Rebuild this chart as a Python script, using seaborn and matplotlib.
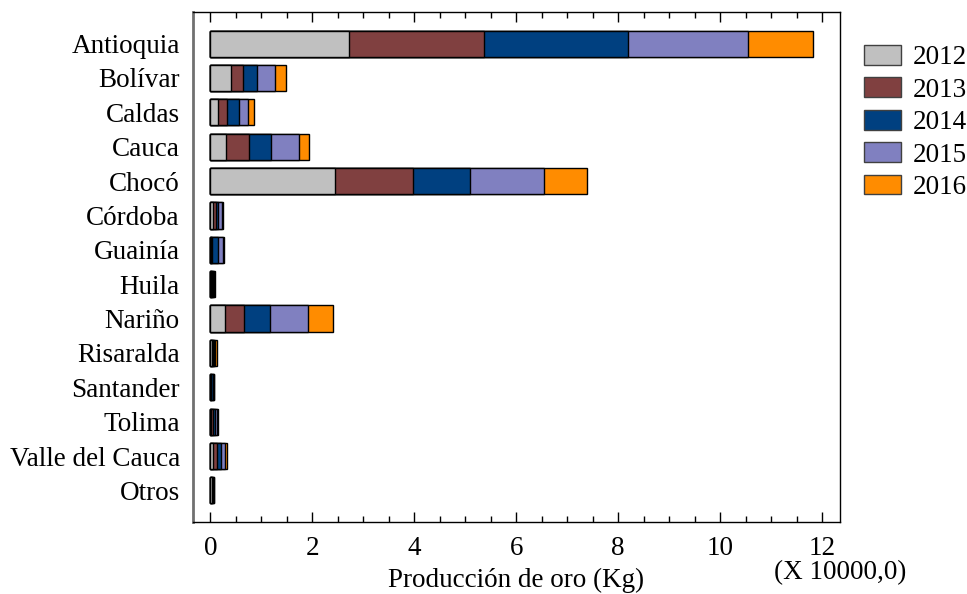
import matplotlib
matplotlib.use("Agg")
import matplotlib.pyplot as plt
from matplotlib.patches import Patch
from matplotlib.ticker import MultipleLocator
import seaborn as sns
import pandas as pd
import numpy as np

# Gold production by department (units of 10 000 kg)
departments = ["Antioquia", "Bolívar", "Caldas", "Cauca", "Chocó", "Córdoba",
               "Guainía", "Huila", "Nariño", "Risaralda", "Santander", "Tolima",
               "Valle del Cauca", "Otros"]
years = ["2012", "2013", "2014", "2015", "2016"]
prod_2012 = [2.72, 0.41, 0.16, 0.31, 2.45, 0.06, 0.02, 0.02, 0.29, 0.03, 0.01, 0.02, 0.06, 0.03]
prod_2013 = [2.65, 0.23, 0.17, 0.45, 1.52, 0.06, 0.01, 0.02, 0.38, 0.02, 0.01, 0.03, 0.08, 0.01]
prod_2014 = [2.83, 0.27, 0.23, 0.43, 1.13, 0.04, 0.13, 0.02, 0.51, 0.02, 0.04, 0.04, 0.07, 0.01]
prod_2015 = [2.35, 0.35, 0.18, 0.55, 1.45, 0.06, 0.08, 0.02, 0.74, 0.02, 0.01, 0.04, 0.08, 0.02]
prod_2016 = [1.28, 0.22, 0.11, 0.19, 0.83, 0.03, 0.03, 0.02, 0.48, 0.05, 0.01, 0.03, 0.03, 0.01]
colors = ["#C0C0C0", "#804040", "#004080", "#8080C0", "#FF8C00"]

series = [prod_2012, prod_2013, prod_2014, prod_2015, prod_2016]
df = pd.DataFrame({"Departamento": departments})
for y, vals in zip(years, series):
    df[y] = vals
cum = df[years].cumsum(axis=1)

sns.set_theme(style="white")
plt.rcParams["font.family"] = ["Liberation Serif", "DejaVu Serif"]
plt.rcParams["text.color"] = "black"
plt.rcParams["xtick.color"] = "black"
plt.rcParams["ytick.color"] = "black"

FS = 19.5

fig = plt.figure(figsize=(9.67, 5.94), dpi=100)
ax = fig.add_axes([193 / 967, 1 - 522 / 594, (840 - 193) / 967, (522 - 12) / 594])

# stacked bars: draw cumulative totals from the last year down to the first
for y, c in zip(reversed(years), reversed(colors)):
    plot_df = pd.DataFrame({"Departamento": departments, "total": cum[y].values})
    sns.barplot(data=plot_df, y="Departamento", x="total", orient="h",
                order=departments, color=c, saturation=1, width=0.76,
                edgecolor="black", linewidth=1.0, ax=ax)

ax.set_xlim(-0.34, 12.35)
ax.set_ylim(13.92, -0.92)
ax.xaxis.set_major_locator(MultipleLocator(2))
ax.xaxis.set_minor_locator(MultipleLocator(0.5))
ax.tick_params(axis="x", which="both", direction="in", top=True, bottom=True,
               colors="black", labelsize=FS, pad=10)
ax.tick_params(axis="x", which="major", length=7, width=1)
ax.tick_params(axis="x", which="minor", length=4, width=1)
ax.tick_params(axis="y", which="both", left=False, right=False, labelsize=FS,
               pad=3.5, colors="black")
ax.set_xlabel("")
ax.set_ylabel("")
for s in ["top", "bottom", "right"]:
    ax.spines[s].set_color("black")
    ax.spines[s].set_linewidth(1.0)
ax.spines["left"].set_color("#707070")
ax.spines["left"].set_linewidth(2.0)

handles = [Patch(facecolor=c, edgecolor="#404040", linewidth=1.0, label=y)
           for y, c in zip(years, colors)]
fig.legend(handles=handles, loc="upper left", bbox_to_anchor=(864 / 967, 1 - 45 / 594),
           frameon=False, fontsize=FS, handlelength=1.35, handleheight=0.75,
           labelspacing=0.26, handletextpad=0.45, borderaxespad=0, borderpad=0)

fig.text(516 / 967, 1 - 580 / 594, "Producción de oro (Kg)", ha="center", va="center", fontsize=FS)
fig.text(840 / 967, 1 - 573 / 594, "(X 10000,0)", ha="center", va="center", fontsize=FS)

fig.savefig("out.png", dpi=100)
